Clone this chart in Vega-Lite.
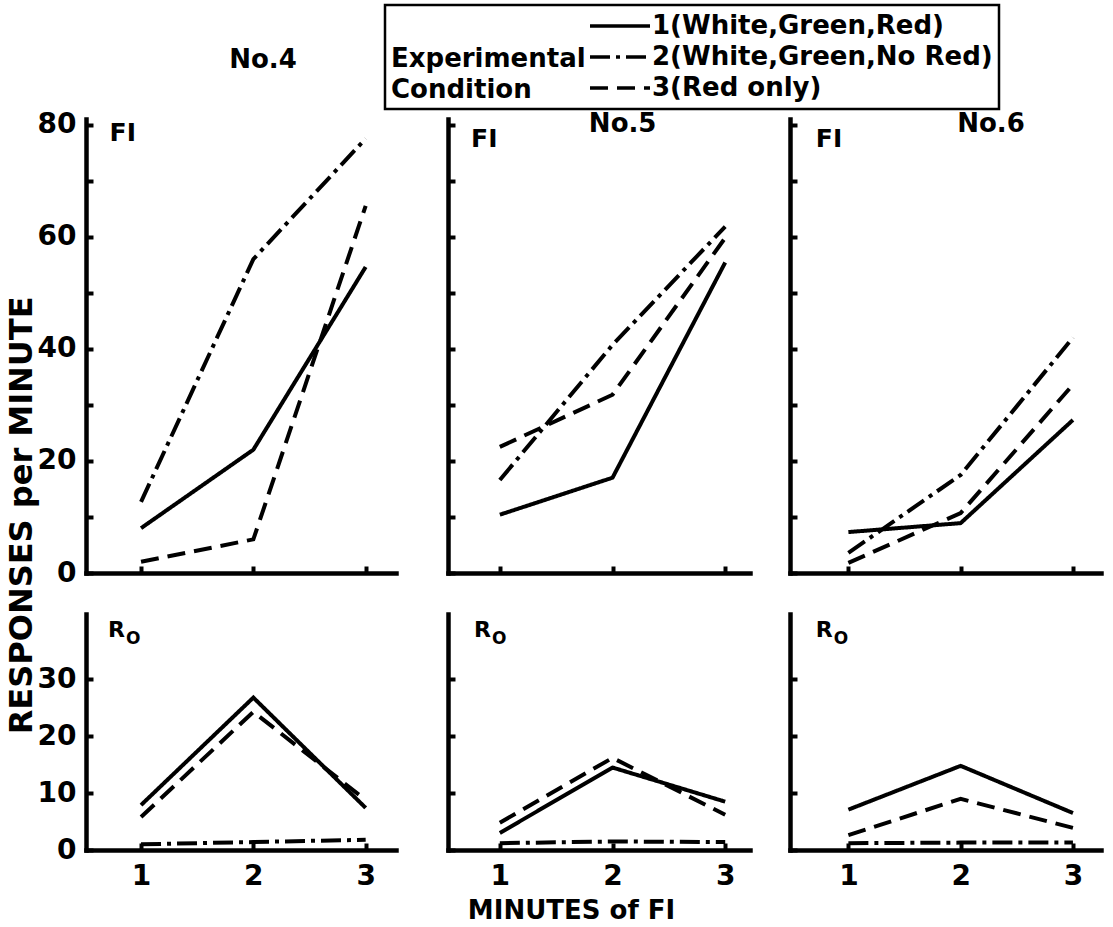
{
  "$schema": "https://vega.github.io/schema/vega-lite/v6.json",
  "background": "white",
  "padding": {"left": 6, "top": 3, "right": 5, "bottom": 5},
  "title": {"text": "RESPONSES per MINUTE", "orient": "left", "anchor": "middle", "fontSize": 32, "offset": -2, "dx": -52, "color": "black", "fontWeight": "bold"},
  "datasets": {
    "d": [
      {"subject": "No.4", "measure": "FI", "condition": "1(White,Green,Red)", "minute": 1, "rate": 8},
      {"subject": "No.4", "measure": "FI", "condition": "1(White,Green,Red)", "minute": 2, "rate": 22},
      {"subject": "No.4", "measure": "FI", "condition": "1(White,Green,Red)", "minute": 3, "rate": 54.6},
      {"subject": "No.4", "measure": "FI", "condition": "2(White,Green,No Red)", "minute": 1, "rate": 12.7},
      {"subject": "No.4", "measure": "FI", "condition": "2(White,Green,No Red)", "minute": 2, "rate": 56},
      {"subject": "No.4", "measure": "FI", "condition": "2(White,Green,No Red)", "minute": 3, "rate": 77.5},
      {"subject": "No.4", "measure": "FI", "condition": "3(Red only)", "minute": 1, "rate": 2},
      {"subject": "No.4", "measure": "FI", "condition": "3(Red only)", "minute": 2, "rate": 6},
      {"subject": "No.4", "measure": "FI", "condition": "3(Red only)", "minute": 3, "rate": 65.5},
      {"subject": "No.5", "measure": "FI", "condition": "1(White,Green,Red)", "minute": 1, "rate": 10.4},
      {"subject": "No.5", "measure": "FI", "condition": "1(White,Green,Red)", "minute": 2, "rate": 17},
      {"subject": "No.5", "measure": "FI", "condition": "1(White,Green,Red)", "minute": 3, "rate": 55.4},
      {"subject": "No.5", "measure": "FI", "condition": "2(White,Green,No Red)", "minute": 1, "rate": 16.6},
      {"subject": "No.5", "measure": "FI", "condition": "2(White,Green,No Red)", "minute": 2, "rate": 40.7},
      {"subject": "No.5", "measure": "FI", "condition": "2(White,Green,No Red)", "minute": 3, "rate": 61.8},
      {"subject": "No.5", "measure": "FI", "condition": "3(Red only)", "minute": 1, "rate": 22.5},
      {"subject": "No.5", "measure": "FI", "condition": "3(Red only)", "minute": 2, "rate": 31.8},
      {"subject": "No.5", "measure": "FI", "condition": "3(Red only)", "minute": 3, "rate": 59.8},
      {"subject": "No.6", "measure": "FI", "condition": "1(White,Green,Red)", "minute": 1, "rate": 7.3},
      {"subject": "No.6", "measure": "FI", "condition": "1(White,Green,Red)", "minute": 2, "rate": 8.9},
      {"subject": "No.6", "measure": "FI", "condition": "1(White,Green,Red)", "minute": 3, "rate": 27.3},
      {"subject": "No.6", "measure": "FI", "condition": "2(White,Green,No Red)", "minute": 1, "rate": 3.6},
      {"subject": "No.6", "measure": "FI", "condition": "2(White,Green,No Red)", "minute": 2, "rate": 17.5},
      {"subject": "No.6", "measure": "FI", "condition": "2(White,Green,No Red)", "minute": 3, "rate": 42},
      {"subject": "No.6", "measure": "FI", "condition": "3(Red only)", "minute": 1, "rate": 1.8},
      {"subject": "No.6", "measure": "FI", "condition": "3(Red only)", "minute": 2, "rate": 10.7},
      {"subject": "No.6", "measure": "FI", "condition": "3(Red only)", "minute": 3, "rate": 33.6},
      {"subject": "No.4", "measure": "Ro", "condition": "1(White,Green,Red)", "minute": 1, "rate": 7.9},
      {"subject": "No.4", "measure": "Ro", "condition": "1(White,Green,Red)", "minute": 2, "rate": 26.8},
      {"subject": "No.4", "measure": "Ro", "condition": "1(White,Green,Red)", "minute": 3, "rate": 7.4},
      {"subject": "No.4", "measure": "Ro", "condition": "2(White,Green,No Red)", "minute": 1, "rate": 1.0},
      {"subject": "No.4", "measure": "Ro", "condition": "2(White,Green,No Red)", "minute": 2, "rate": 1.4},
      {"subject": "No.4", "measure": "Ro", "condition": "2(White,Green,No Red)", "minute": 3, "rate": 1.8},
      {"subject": "No.4", "measure": "Ro", "condition": "3(Red only)", "minute": 1, "rate": 5.8},
      {"subject": "No.4", "measure": "Ro", "condition": "3(Red only)", "minute": 2, "rate": 24.3},
      {"subject": "No.4", "measure": "Ro", "condition": "3(Red only)", "minute": 3, "rate": 8.8},
      {"subject": "No.5", "measure": "Ro", "condition": "1(White,Green,Red)", "minute": 1, "rate": 3.0},
      {"subject": "No.5", "measure": "Ro", "condition": "1(White,Green,Red)", "minute": 2, "rate": 14.5},
      {"subject": "No.5", "measure": "Ro", "condition": "1(White,Green,Red)", "minute": 3, "rate": 8.5},
      {"subject": "No.5", "measure": "Ro", "condition": "2(White,Green,No Red)", "minute": 1, "rate": 1.2},
      {"subject": "No.5", "measure": "Ro", "condition": "2(White,Green,No Red)", "minute": 2, "rate": 1.5},
      {"subject": "No.5", "measure": "Ro", "condition": "2(White,Green,No Red)", "minute": 3, "rate": 1.4},
      {"subject": "No.5", "measure": "Ro", "condition": "3(Red only)", "minute": 1, "rate": 4.8},
      {"subject": "No.5", "measure": "Ro", "condition": "3(Red only)", "minute": 2, "rate": 16.2},
      {"subject": "No.5", "measure": "Ro", "condition": "3(Red only)", "minute": 3, "rate": 6.2},
      {"subject": "No.6", "measure": "Ro", "condition": "1(White,Green,Red)", "minute": 1, "rate": 7.1},
      {"subject": "No.6", "measure": "Ro", "condition": "1(White,Green,Red)", "minute": 2, "rate": 14.8},
      {"subject": "No.6", "measure": "Ro", "condition": "1(White,Green,Red)", "minute": 3, "rate": 6.5},
      {"subject": "No.6", "measure": "Ro", "condition": "2(White,Green,No Red)", "minute": 1, "rate": 1.2},
      {"subject": "No.6", "measure": "Ro", "condition": "2(White,Green,No Red)", "minute": 2, "rate": 1.3},
      {"subject": "No.6", "measure": "Ro", "condition": "2(White,Green,No Red)", "minute": 3, "rate": 1.3},
      {"subject": "No.6", "measure": "Ro", "condition": "3(Red only)", "minute": 1, "rate": 2.6},
      {"subject": "No.6", "measure": "Ro", "condition": "3(Red only)", "minute": 2, "rate": 9.0},
      {"subject": "No.6", "measure": "Ro", "condition": "3(Red only)", "minute": 3, "rate": 3.9}
    ]
  },
  "config": {
    "font": "DejaVu Sans",
    "view": {"stroke": null},
    "axis": {
      "grid": false,
      "domainColor": "black",
      "domainWidth": 4.5,
      "domainCap": "square",
      "tickColor": "black",
      "tickWidth": 4,
      "tickSize": -7,
      "labelFont": "DejaVu Sans",
      "labelFontSize": 28,
      "labelFontWeight": "bold",
      "labelColor": "black",
      "labelFlush": false,
      "labelOverlap": false,
      "titleFont": "DejaVu Sans",
      "titleColor": "black",
      "titleFontWeight": "bold"
    },
    "legend": {
      "orient": "none",
      "legendX": 299,
      "legendY": -114,
      "titleOrient": "left",
      "titleFontSize": 26,
      "titleFontWeight": "bold",
      "titleColor": "black",
      "titleAlign": "left",
      "titleAnchor": "end",
      "titleLineHeight": 31,
      "titlePadding": 2,
      "titleLimit": 400,
      "labelFontSize": 26,
      "labelFontWeight": "bold",
      "labelColor": "black",
      "labelOffset": 0,
      "labelLimit": 500,
      "symbolType": "stroke",
      "symbolStrokeWidth": 3.5,
      "symbolStrokeColor": "black",
      "symbolSize": 3600,
      "clipHeight": 30,
      "rowPadding": 1,
      "padding": 6,
      "strokeColor": "black",
      "strokeWidth": 2.5
    },
    "title": {"font": "DejaVu Sans", "fontWeight": "bold", "color": "black"}
  },
  "spacing": 27,
  "vconcat": [
    {
      "spacing": 52,
      "bounds": "flush",
      "hconcat": [
        {
          "width": 310,
          "height": 454,
          "title": {"text": "No.4", "fontSize": 26, "anchor": "middle", "dx": 22, "offset": 38},
          "data": {"name": "d"},
          "layer": [
            {
              "transform": [{"filter": "datum.subject == 'No.4' && datum.measure == 'FI'"}],
              "mark": {"type": "line", "strokeWidth": 4, "color": "black", "strokeCap": "butt"},
              "encoding": {
                "x": {"field": "minute", "type": "quantitative", "scale": {"domain": [0.51, 3.27], "nice": false, "zero": false}, "axis": {"values": [1, 2, 3], "labels": false, "title": null}},
                "y": {"field": "rate", "type": "quantitative", "scale": {"domain": [0, 81], "nice": false}, "axis": {"values": [0, 10, 20, 30, 40, 50, 60, 70, 80], "labelExpr": "datum.value % 20 == 0 ? datum.label : ''", "labelPadding": 17, "title": null}},
                "strokeDash": {"field": "condition", "type": "nominal", "scale": {"domain": ["1(White,Green,Red)", "2(White,Green,No Red)", "3(Red only)"], "range": [[1, 0], [20, 6, 4, 6], [18, 9]]}, "legend": {"title": ["Experimental", "Condition"]}}
              }
            },
            {
              "data": {"values": [{"label": "FI"}]},
              "mark": {"type": "text", "fontSize": 25, "fontWeight": "bold", "align": "left", "baseline": "alphabetic", "color": "black"},
              "encoding": {"x": {"datum": 0.72}, "y": {"datum": 77}, "text": {"field": "label"}}
            }
          ]
        },
        {
          "spacing": 40,
          "bounds": "flush",
          "hconcat": [
            {
              "width": 302,
              "height": 454,
              "data": {"name": "d"},
              "layer": [
                {
                  "transform": [{"filter": "datum.subject == 'No.5' && datum.measure == 'FI'"}],
                  "mark": {"type": "line", "strokeWidth": 4, "color": "black", "strokeCap": "butt"},
                  "encoding": {
                    "x": {"field": "minute", "type": "quantitative", "scale": {"domain": [0.54, 3.22], "nice": false, "zero": false}, "axis": {"values": [1, 2, 3], "labels": false, "title": null}},
                    "y": {"field": "rate", "type": "quantitative", "scale": {"domain": [0, 81], "nice": false}, "axis": {"values": [0, 10, 20, 30, 40, 50, 60, 70, 80], "labels": false, "title": null}},
                    "strokeDash": {"field": "condition", "type": "nominal", "scale": {"domain": ["1(White,Green,Red)", "2(White,Green,No Red)", "3(Red only)"], "range": [[1, 0], [20, 6, 4, 6], [18, 9]]}, "legend": {"title": ["Experimental", "Condition"]}}
                  }
                },
                {
                  "data": {"values": [{"label": "FI"}]},
                  "mark": {"type": "text", "fontSize": 25, "fontWeight": "bold", "align": "left", "baseline": "alphabetic", "color": "black"},
                  "encoding": {"x": {"datum": 0.745}, "y": {"datum": 76}, "text": {"field": "label"}}
                },
                {
                  "data": {"values": [{"label": "No.5"}]},
                  "mark": {"type": "text", "fontSize": 26, "fontWeight": "bold", "align": "center", "baseline": "alphabetic", "color": "black"},
                  "encoding": {"x": {"datum": 2.09}, "y": {"datum": 78.6}, "text": {"field": "label"}}
                }
              ]
            },
            {
              "width": 311,
              "height": 454,
              "data": {"name": "d"},
              "layer": [
                {
                  "transform": [{"filter": "datum.subject == 'No.6' && datum.measure == 'FI'"}],
                  "mark": {"type": "line", "strokeWidth": 4, "color": "black", "strokeCap": "butt"},
                  "encoding": {
                    "x": {"field": "minute", "type": "quantitative", "scale": {"domain": [0.48, 3.25], "nice": false, "zero": false}, "axis": {"values": [1, 2, 3], "labels": false, "title": null}},
                    "y": {"field": "rate", "type": "quantitative", "scale": {"domain": [0, 81], "nice": false}, "axis": {"values": [0, 10, 20, 30, 40, 50, 60, 70, 80], "labels": false, "title": null}},
                    "strokeDash": {"field": "condition", "type": "nominal", "scale": {"domain": ["1(White,Green,Red)", "2(White,Green,No Red)", "3(Red only)"], "range": [[1, 0], [20, 6, 4, 6], [18, 9]]}, "legend": {"title": ["Experimental", "Condition"]}}
                  }
                },
                {
                  "data": {"values": [{"label": "FI"}]},
                  "mark": {"type": "text", "fontSize": 25, "fontWeight": "bold", "align": "left", "baseline": "alphabetic", "color": "black"},
                  "encoding": {"x": {"datum": 0.71}, "y": {"datum": 76}, "text": {"field": "label"}}
                },
                {
                  "data": {"values": [{"label": "No.6"}]},
                  "mark": {"type": "text", "fontSize": 26, "fontWeight": "bold", "align": "center", "baseline": "alphabetic", "color": "black"},
                  "encoding": {"x": {"datum": 2.27}, "y": {"datum": 78.6}, "text": {"field": "label"}}
                }
              ]
            }
          ]
        }
      ]
    },
    {
      "spacing": 52,
      "bounds": "flush",
      "hconcat": [
        {
          "width": 310,
          "height": 236,
          "data": {"name": "d"},
          "layer": [
            {
              "transform": [{"filter": "datum.subject == 'No.4' && datum.measure == 'Ro'"}],
              "mark": {"type": "line", "strokeWidth": 4, "color": "black", "strokeCap": "butt"},
              "encoding": {
                "x": {"field": "minute", "type": "quantitative", "scale": {"domain": [0.51, 3.27], "nice": false, "zero": false}, "axis": {"values": [1, 2, 3], "format": "d", "labelPadding": 19, "title": null}},
                "y": {"field": "rate", "type": "quantitative", "scale": {"domain": [0, 41.5], "nice": false}, "axis": {"values": [0, 10, 20, 30], "labelPadding": 17, "title": null}},
                "strokeDash": {"field": "condition", "type": "nominal", "scale": {"domain": ["1(White,Green,Red)", "2(White,Green,No Red)", "3(Red only)"], "range": [[1, 0], [20, 6, 4, 6], [18, 9]]}, "legend": {"title": ["Experimental", "Condition"]}}
              }
            },
            {
              "data": {"values": [{"label": "R"}]},
              "mark": {"type": "text", "fontSize": 22, "fontWeight": "bold", "align": "left", "baseline": "alphabetic", "color": "black"},
              "encoding": {"x": {"datum": 0.706}, "y": {"datum": 37.4}, "text": {"field": "label"}}
            },
            {
              "data": {"values": [{"label": "O"}]},
              "mark": {"type": "text", "fontSize": 17, "fontWeight": "bold", "align": "left", "baseline": "alphabetic", "color": "black", "dx": 18, "dy": 7},
              "encoding": {"x": {"datum": 0.706}, "y": {"datum": 37.4}, "text": {"field": "label"}}
            }
          ]
        },
        {
          "spacing": 40,
          "bounds": "flush",
          "hconcat": [
            {
              "width": 302,
              "height": 236,
              "data": {"name": "d"},
              "layer": [
                {
                  "transform": [{"filter": "datum.subject == 'No.5' && datum.measure == 'Ro'"}],
                  "mark": {"type": "line", "strokeWidth": 4, "color": "black", "strokeCap": "butt"},
                  "encoding": {
                    "x": {"field": "minute", "type": "quantitative", "scale": {"domain": [0.54, 3.22], "nice": false, "zero": false}, "axis": {"values": [1, 2, 3], "format": "d", "labelPadding": 19, "title": "MINUTES of FI", "titleFontSize": 26, "titleX": 123, "titleY": 68, "titleAlign": "center", "titleBaseline": "alphabetic"}},
                    "y": {"field": "rate", "type": "quantitative", "scale": {"domain": [0, 41.5], "nice": false}, "axis": {"values": [0, 10, 20, 30], "labels": false, "title": null}},
                    "strokeDash": {"field": "condition", "type": "nominal", "scale": {"domain": ["1(White,Green,Red)", "2(White,Green,No Red)", "3(Red only)"], "range": [[1, 0], [20, 6, 4, 6], [18, 9]]}, "legend": {"title": ["Experimental", "Condition"]}}
                  }
                },
                {
                  "data": {"values": [{"label": "R"}]},
                  "mark": {"type": "text", "fontSize": 22, "fontWeight": "bold", "align": "left", "baseline": "alphabetic", "color": "black"},
                  "encoding": {"x": {"datum": 0.77}, "y": {"datum": 37.4}, "text": {"field": "label"}}
                },
                {
                  "data": {"values": [{"label": "O"}]},
                  "mark": {"type": "text", "fontSize": 17, "fontWeight": "bold", "align": "left", "baseline": "alphabetic", "color": "black", "dx": 18, "dy": 7},
                  "encoding": {"x": {"datum": 0.77}, "y": {"datum": 37.4}, "text": {"field": "label"}}
                }
              ]
            },
            {
              "width": 311,
              "height": 236,
              "data": {"name": "d"},
              "layer": [
                {
                  "transform": [{"filter": "datum.subject == 'No.6' && datum.measure == 'Ro'"}],
                  "mark": {"type": "line", "strokeWidth": 4, "color": "black", "strokeCap": "butt"},
                  "encoding": {
                    "x": {"field": "minute", "type": "quantitative", "scale": {"domain": [0.48, 3.25], "nice": false, "zero": false}, "axis": {"values": [1, 2, 3], "format": "d", "labelPadding": 19, "title": null}},
                    "y": {"field": "rate", "type": "quantitative", "scale": {"domain": [0, 41.5], "nice": false}, "axis": {"values": [0, 10, 20, 30], "labels": false, "title": null}},
                    "strokeDash": {"field": "condition", "type": "nominal", "scale": {"domain": ["1(White,Green,Red)", "2(White,Green,No Red)", "3(Red only)"], "range": [[1, 0], [20, 6, 4, 6], [18, 9]]}, "legend": {"title": ["Experimental", "Condition"]}}
                  }
                },
                {
                  "data": {"values": [{"label": "R"}]},
                  "mark": {"type": "text", "fontSize": 22, "fontWeight": "bold", "align": "left", "baseline": "alphabetic", "color": "black"},
                  "encoding": {"x": {"datum": 0.71}, "y": {"datum": 37.4}, "text": {"field": "label"}}
                },
                {
                  "data": {"values": [{"label": "O"}]},
                  "mark": {"type": "text", "fontSize": 17, "fontWeight": "bold", "align": "left", "baseline": "alphabetic", "color": "black", "dx": 18, "dy": 7},
                  "encoding": {"x": {"datum": 0.71}, "y": {"datum": 37.4}, "text": {"field": "label"}}
                }
              ]
            }
          ]
        }
      ]
    }
  ]
}
